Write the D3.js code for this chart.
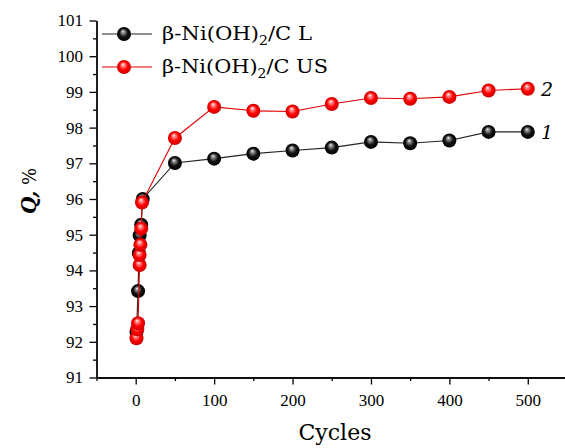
<!DOCTYPE html>
<html><head><meta charset="utf-8">
<script src="https://cdn.jsdelivr.net/npm/d3@7"></script>
<style>body{margin:0;background:#fff}svg{display:block}</style>
</head><body>
<svg id="c" width="565" height="448"></svg>
<script>
const cyclesL = [1, 3, 4, 5, 7, 9, 50, 100, 150, 200, 250, 300, 350, 400, 450, 500];
const valuesL = [92.28, 93.42, 94.48, 94.98, 95.28, 96.0, 97.01, 97.13, 97.27, 97.36, 97.44, 97.6, 97.56, 97.64, 97.88, 97.88];
const cyclesUS = [1, 2, 3, 5, 5, 6, 7, 8, 50, 100, 150, 200, 250, 300, 350, 400, 450, 500];
const valuesUS = [92.1, 92.35, 92.52, 94.15, 94.43, 94.72, 95.17, 95.9, 97.71, 98.58, 98.47, 98.45, 98.66, 98.83, 98.81, 98.86, 99.04, 99.09];
const xTicks = [0, 100, 200, 300, 400, 500];
const yTicks = [91, 92, 93, 94, 95, 96, 97, 98, 99, 100, 101];
const seriesNames = ["β-Ni(OH)", "/C L", "/C US"];

const svg = d3.select("#c");
const x = d3.scaleLinear().domain([-50, 550]).range([96.5, 567]);
const y = d3.scaleLinear().domain([91, 101]).range([377.5, 20.5]);

const defs = svg.append("defs");
function grad(id, c0, c1, c2) {
  const g = defs.append("radialGradient").attr("id", id)
    .attr("cx", "50%").attr("cy", "50%").attr("r", "50%")
    .attr("fx", "42%").attr("fy", "30%");
  g.append("stop").attr("offset", "0%").attr("stop-color", "#ffffff");
  g.append("stop").attr("offset", "18%").attr("stop-color", c0);
  g.append("stop").attr("offset", "60%").attr("stop-color", c1);
  g.append("stop").attr("offset", "100%").attr("stop-color", c2);
}
grad("gBlack", "#9a9a9a", "#111111", "#000000");
grad("gRed", "#ff9a9a", "#ff0000", "#cc0000");

const serif = "'Liberation Serif', 'Times New Roman', serif";
const serif2 = "'DejaVu Serif', serif";

// axes
const xAxis = d3.axisBottom(x).tickValues(xTicks).tickSize(7).tickSizeOuter(0).tickFormat(d3.format("d"));
const xMinor = d3.axisBottom(x).tickValues(d3.range(-50, 551, 50).filter(v => v % 100 !== 0)).tickSize(3.5).tickSizeOuter(0).tickFormat("");
const yAxis = d3.axisLeft(y).tickValues(yTicks).tickSize(7).tickSizeOuter(0).tickFormat(d3.format("d"));
const yMinor = d3.axisLeft(y).tickValues(d3.range(91.5, 101, 1)).tickSize(3.5).tickSizeOuter(0).tickFormat("");

function style(g) {
  g.selectAll("path,line").attr("stroke", "#000").attr("stroke-width", 1.3);
  g.selectAll("text").attr("font-family", serif).attr("font-size", 17).attr("fill", "#000");
}
const gx = svg.append("g").attr("transform", `translate(0,${y(91)})`).call(xAxis).call(style);
gx.selectAll("text").attr("dy", "1.1em");
svg.append("g").attr("transform", `translate(0,${y(91)})`).call(xMinor).call(style);
const gy = svg.append("g").attr("transform", `translate(${x(-50)},0)`).call(yAxis).call(style);
gy.selectAll("text").attr("dx", "-0.2em");
svg.append("g").attr("transform", `translate(${x(-50)},0)`).call(yMinor).call(style);

// titles
svg.append("text").attr("x", 335).attr("y", 440).attr("text-anchor", "middle")
  .attr("font-family", serif2).attr("font-size", 22).text("Cycles");
const yt = svg.append("text").attr("transform", "translate(36,191) rotate(-90)").attr("text-anchor", "middle")
  .attr("font-family", serif2).attr("font-size", 20);
yt.append("tspan").attr("font-style", "italic").attr("font-weight", "bold").text("Q,");
yt.append("tspan").attr("font-size", 18).text(" %");

// lines
const line = d3.line().x(d => x(d[0])).y(d => y(d[1]));
const dataL = cyclesL.map((c, i) => [c, valuesL[i]]);
const dataUS = cyclesUS.map((c, i) => [c, valuesUS[i]]);

svg.append("path").datum(dataL).attr("d", line).attr("fill", "none").attr("stroke", "#222").attr("stroke-width", 1.1);
svg.append("g").selectAll("circle").data(dataL).join("circle")
  .attr("cx", d => x(d[0])).attr("cy", d => y(d[1])).attr("r", 7).attr("fill", "url(#gBlack)");
svg.append("path").datum(dataUS).attr("d", line).attr("fill", "none").attr("stroke", "#e00000").attr("stroke-width", 1.1);
svg.append("g").selectAll("circle").data(dataUS).join("circle")
  .attr("cx", d => x(d[0])).attr("cy", d => y(d[1])).attr("r", 7).attr("fill", "url(#gRed)");

// curve labels
svg.append("text").attr("x", 541).attr("y", y(valuesUS[valuesUS.length - 1]) + 7)
  .attr("font-family", serif2).attr("font-style", "italic").attr("font-size", 19).text("2");
svg.append("text").attr("x", 541).attr("y", y(valuesL[valuesL.length - 1]) + 7)
  .attr("font-family", serif2).attr("font-style", "italic").attr("font-size", 19).text("1");

// legend
const leg = [
  {y: 34, stroke: "#222", fill: "url(#gBlack)", suf: seriesNames[1], w: 150},
  {y: 67, stroke: "#e00000", fill: "url(#gRed)", suf: seriesNames[2], w: 166}
];
leg.forEach(l => {
  svg.append("line").attr("x1", 102).attr("x2", 152).attr("y1", l.y).attr("y2", l.y)
    .attr("stroke", l.stroke).attr("stroke-width", 1.1);
  svg.append("circle").attr("cx", 124).attr("cy", l.y).attr("r", 7).attr("fill", l.fill);
  const t = svg.append("text").attr("x", 162).attr("y", l.y + 6)
    .attr("font-family", serif2).attr("font-size", 18)
    .attr("textLength", l.w).attr("lengthAdjust", "spacingAndGlyphs");
  t.append("tspan").text(seriesNames[0]);
  t.append("tspan").attr("font-size", 12).attr("dy", 5).text("2");
  t.append("tspan").attr("dy", -5).text(l.suf);
});
</script>
</body></html>
